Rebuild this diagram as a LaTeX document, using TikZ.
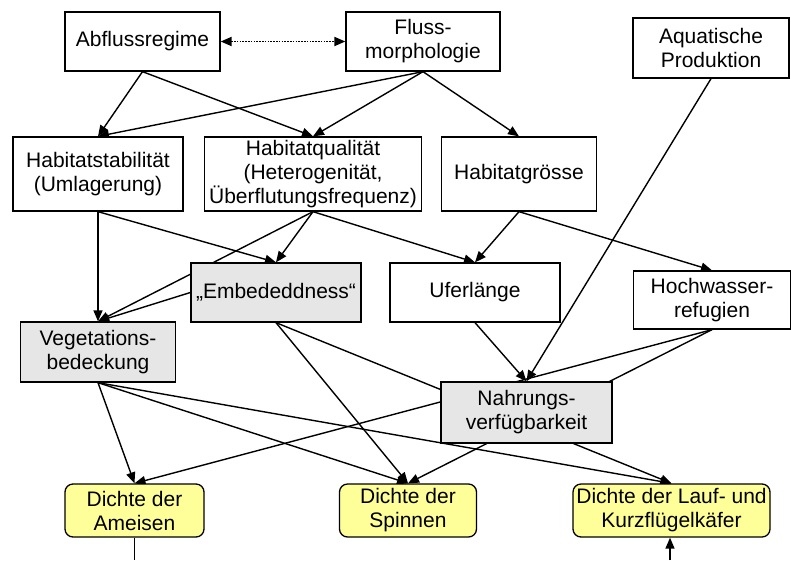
\documentclass[tikz,border=0pt]{standalone}
\usepackage{fontspec}
\setmainfont{Liberation Sans}
\usepackage{xcolor}
\usepackage{tikz}
\usetikzlibrary{arrows.meta, backgrounds}

\definecolor{boxgray}{RGB}{230,230,230}
\definecolor{boxyellow}{RGB}{255,255,153}

\tikzset{
    factor/.style={draw, line width=1.3pt, fill=white, align=center, inner sep=1pt,
        font=\fontsize{21}{24}\selectfont},
    grayfactor/.style={factor, fill=boxgray},
    density/.style={factor, fill=boxyellow, rounded corners=8pt},
    link/.style={line width=1.4pt},
}

\begin{document}
\begin{tikzpicture}[x=1pt, y=-1pt, >={Triangle[length=11pt, width=9pt]}]
    \useasboundingbox (0,0) rectangle (791,560);

    \node[factor, minimum width=155, minimum height=59] (abfl) at (142.5,41.5) {Abflussregime};
    \node[factor, minimum width=154, minimum height=59] (fluss) at (423,41.5) {Fluss-\\morphologie};
    \node[factor, minimum width=156, minimum height=60] (aqua) at (711,48) {Aquatische\\Produktion};

    \node[factor, minimum width=170, minimum height=74] (stab) at (98,174) {Habitatstabilität\\(Umlagerung)};
    \node[factor, minimum width=217, minimum height=74] (qual) at (313,174) {Habitatqualität\\(Heterogenität,\\Überflutungsfrequenz)};
    \node[factor, minimum width=155, minimum height=74] (groesse) at (519,174) {Habitatgrösse};

    \node[grayfactor, minimum width=170, minimum height=59] (emb) at (276,292.5) {„Embededdness“};
    \node[factor, minimum width=170, minimum height=59] (ufer) at (475,292.5) {Uferlänge};
    \node[factor, minimum width=157, minimum height=58] (hoch) at (712,300) {Hochwasser-\\refugien};

    \node[grayfactor, minimum width=155, minimum height=60] (veg) at (98,352) {Vegetations-\\bedeckung};
    \node[grayfactor, minimum width=171, minimum height=61] (nahr) at (526.5,412.5) {Nahrungs-\\verfügbarkeit};

    \node[density, minimum width=139, minimum height=53] (amei) at (134.5,510.5) {Dichte der\\Ameisen};
    \node[density, minimum width=137, minimum height=53] (spin) at (408,510.5) {Dichte der\\Spinnen};
    \node[density, minimum width=197, minimum height=53] (kaef) at (671.5,510.5) {Dichte der Lauf- und\\Kurzflügelkäfer};

    \coordinate (ameiend) at (134.5,560);
    \coordinate (kaefstart) at (670,560);

    \begin{scope}[on background layer, link]
        \draw[link, line width=1.8pt, <->, dash pattern=on 1.6pt off 1.2pt] (abfl.east) -- (fluss.west);

        \draw[link, ->] (abfl.south) -- (stab.north);
        \draw[link, ->] (abfl.south) -- (qual.north);
        \draw[link, ->] (fluss.south) -- (stab.north);
        \draw[link, ->] (fluss.south) -- (qual.north);
        \draw[link, ->] (fluss.south) -- (groesse.north);

        \draw[link, ->] (stab.south) -- (veg.north);
        \draw[link, ->] (stab.south) -- (emb.north);
        \draw[link, ->] (qual.south) -- (emb.north);
        \draw[link, ->] (qual.south) -- (veg.north);
        \draw[link, ->] (qual.south) -- (ufer.north);
        \draw[link, ->] (emb.west) -- (veg.north);
        \draw[link, ->] (groesse.south) -- (ufer.north);
        \draw[link, ->] (groesse.south) -- (hoch.north);

        \draw[link, ->] (aqua.south) -- (nahr.north);
        \draw[link, ->] (ufer.south) -- (nahr.north);
        \draw[link, ->] (hoch.south) -- (amei.north);
        \draw[link, ->] (hoch.south) -- (spin.north);

        \draw[link, ->] (veg.south) -- (amei.north);
        \draw[link, ->] (veg.south) -- (spin.north);
        \draw[link, ->] (veg.south) -- (kaef.north);
        \draw[link, ->] (emb.south) -- (spin.north);
        \draw[link, ->] (emb.south) -- (kaef.north);

        \draw[link] (amei.south) -- (ameiend);
        \draw[link, ->] (kaefstart) -- (kaef.south -| kaefstart);
    \end{scope}
\end{tikzpicture}
\end{document}
